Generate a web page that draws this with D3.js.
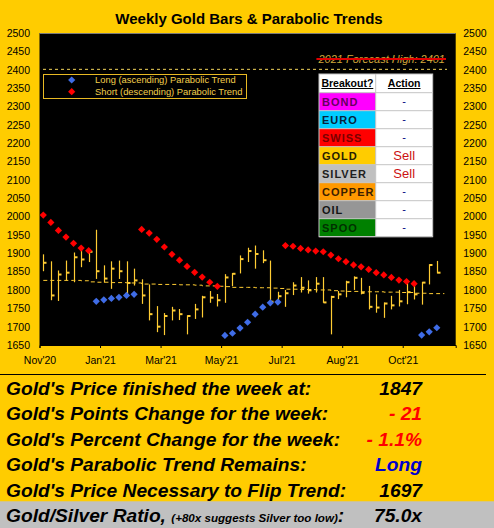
<!DOCTYPE html>
<html>
<head>
<meta charset="utf-8">
<script src="https://cdn.jsdelivr.net/npm/d3@7"></script>
<style>
  html, body { margin: 0; padding: 0; background: #FFCC00; }
  svg { display: block; }
  text { font-family: Arial, "Liberation Sans", sans-serif; }
</style>
</head>
<body>
<svg id="chart" width="494" height="528"></svg>
<script>
// Weekly gold bars, week ending Nov'20 .. Nov'21
const weekHighs  = [1897,1878,1853,1880,1902,1917,1909,1964,1867,1878,1880,1878,1858,1829,1815,1756,1737,1754,1748,1731,1762,1784,1797,1789,1843,1846,1894,1915,1921,1908,1880,1795,1800,1821,1835,1826,1835,1835,1784,1797,1825,1837,1833,1811,1788,1766,1784,1800,1820,1815,1822,1870,1879];
const weekLows   = [1851,1772,1770,1826,1821,1862,1876,1830,1820,1803,1830,1786,1812,1762,1717,1685,1677,1717,1718,1679,1721,1725,1765,1755,1765,1810,1845,1876,1858,1873,1765,1762,1754,1786,1793,1790,1793,1765,1679,1775,1780,1800,1788,1747,1738,1724,1747,1755,1761,1774,1760,1815,1845];
const weekCloses = [1874,1785,1842,1847,1889,1883,1904,1851,1831,1858,1851,1819,1826,1785,1734,1700,1729,1744,1734,1729,1747,1780,1779,1772,1834,1844,1884,1906,1898,1881,1768,1783,1791,1812,1806,1799,1817,1766,1781,1788,1821,1833,1792,1754,1752,1763,1758,1769,1794,1788,1820,1868,1847];

// Moving average drawn as the dashed trace through the bars
const movingAvg = [1826,1826,1826,1826,1826,1825,1822,1821,1821,1820,1820,1819,1819,1816,1816,1815,1815,1815,1814,1814,1813,1811,1811,1810,1809,1807,1807,1807,1806,1806,1805,1804,1802,1802,1801,1801,1800,1800,1798,1797,1796,1796,1795,1795,1795,1794,1794,1793,1793,1791,1791,1790,1790];

// Parabolic stops (null where that side is not in force)
const longTrend = [null,null,null,null,null,null,null,1769,1773,1777,1780,1785,1788,
  null,null,null,null,null,null,null,null,null,null,null,
  1676,1682,1696,1712,1734,1753,1765,1767,
  null,null,null,null,null,null,null,null,null,null,null,null,null,null,null,null,null,null,
  1677,1686,1697];
const shortTrend = [2004,1984,1962,1944,1927,1914,1907,
  null,null,null,null,null,null,
  1965,1955,1938,1917,1897,1881,1864,1848,1835,1821,1810,
  null,null,null,null,null,null,null,null,
  1921,1919,1913,1909,1906,1904,1895,1885,1877,1868,1863,1856,1847,1841,1834,1827,1823,1817,
  null,null,null];

const priceTicks = [1650,1700,1750,1800,1850,1900,1950,2000,2050,2100,2150,2200,2250,2300,2350,2400,2450,2500];
const monthTickWeeks = [0,8,16,24,32,40,48];
const monthLabels = ["Nov'20","Jan'21","Mar'21","May'21","Jul'21","Aug'21","Oct'21"];
const weekSlots = 55;

const forecastHigh = 2401;

const breakoutAssets  = ["BOND","EURO","SWISS","GOLD","SILVER","COPPER","OIL","SPOO"];
const breakoutActions = ["-","-","-","Sell","Sell","-","-","-"];

const summaryLabels = ["Gold's Price finished the week at:","Gold's Points Change for the week:","Gold's Percent Change for the week:","Gold's Parabolic Trend Remains:","Gold's Price Necessary to Flip Trend:"];
const summaryValues = ["1847","- 21","- 1.1%","Long","1697"];
const goldSilverRatio = "75.0x";

// ---- styling ----
const YELLOW = "#FFCC00";
const BAR = "#FFCC33";
const RED = "#FF0000";
const BLUE = "#3F6CE6";
const assetFill = {BOND:"#FF00FF",EURO:"#00CCFF",SWISS:"#FF0000",GOLD:"#FFCC00",SILVER:"#C0C0C0",COPPER:"#FF9900",OIL:"#969696",SPOO:"#008000"};
const assetInk  = {BOND:"#66005E",EURO:"#06233A",SWISS:"#7A0000",GOLD:"#2A2000",SILVER:"#202020",COPPER:"#3A1E00",OIL:"#141414",SPOO:"#003000"};
const summaryInk = ["#000","#FF0000","#FF0000","#0000CC","#000"];

const svg = d3.select("#chart");
const W = 494, H = 528;
const plot = {left: 39.5, right: 455.7, top: 33, bottom: 345};

svg.append("rect").attr("width", W).attr("height", H).attr("fill", YELLOW);

const x = d3.scaleLinear().domain([0, weekSlots]).range([plot.left, plot.right]);
const y = d3.scaleLinear().domain([1650, 2500]).range([plot.bottom, plot.top]);
const cx = i => x(i + 0.5);

// title
svg.append("text").attr("x", 249).attr("y", 24).attr("text-anchor", "middle")
  .attr("font-size", 15).attr("font-weight", "bold").attr("fill", "#000")
  .text("Weekly Gold Bars & Parabolic Trends");

// plot background
svg.append("rect").attr("x", plot.left).attr("y", plot.top)
  .attr("width", plot.right - plot.left).attr("height", plot.bottom - plot.top)
  .attr("fill", "#000");
svg.append("line").attr("x1", plot.left).attr("x2", plot.right)
  .attr("y1", plot.top + 0.5).attr("y2", plot.top + 0.5)
  .attr("stroke", "#7a7a7a").attr("stroke-width", 1);

// axes
const plain = d3.format("d");
const axL = svg.append("g").attr("transform", `translate(${plot.left},0)`)
  .call(d3.axisLeft(y).tickValues(priceTicks).tickFormat(plain).tickSize(0).tickPadding(9.5));
const axR = svg.append("g").attr("transform", `translate(${plot.right},0)`)
  .call(d3.axisRight(y).tickValues(priceTicks).tickFormat(plain).tickSize(0).tickPadding(7.5));
[axL, axR].forEach(g => {
  g.select(".domain").remove();
  g.selectAll("text").attr("font-size", 10.5).attr("fill", "#000").attr("font-family", "Arial, 'Liberation Sans', sans-serif");
});
const axB = svg.append("g").attr("transform", `translate(0,${plot.bottom})`)
  .call(d3.axisBottom(x).tickValues(monthTickWeeks).tickFormat((d, i) => monthLabels[i]).tickSize(3).tickPadding(8.5));
axB.select(".domain").attr("stroke", "#000");
axB.selectAll(".tick line").attr("stroke", "#000");
axB.selectAll("text").attr("font-size", 10.5).attr("fill", "#000").attr("font-family", "Arial, 'Liberation Sans', sans-serif");

// forecast line
svg.append("line").attr("x1", 43).attr("x2", 447)
  .attr("y1", y(forecastHigh)).attr("y2", y(forecastHigh))
  .attr("stroke", "#F2D35A").attr("stroke-width", 1).attr("stroke-dasharray", "3,3");
const fcText = svg.append("text").attr("x", 445).attr("y", 63).attr("text-anchor", "end")
  .attr("font-size", 11).attr("font-style", "italic").attr("fill", "#CFA63A")
  .text("2021 Forecast High: " + forecastHigh);
const fcBox = fcText.node().getBBox();
svg.append("line").attr("x1", fcBox.x - 1).attr("x2", fcBox.x + fcBox.width + 1)
  .attr("y1", 59).attr("y2", 59).attr("stroke", "#E00000").attr("stroke-width", 2);

// moving average
const maLine = d3.line().x((d, i) => cx(i)).y(d => y(d)).curve(d3.curveStepAfter);
const maPts = movingAvg.concat([movingAvg[movingAvg.length - 1]]);
svg.append("path").datum(maPts).attr("d", maLine)
  .attr("fill", "none").attr("stroke", BAR).attr("stroke-width", 1)
  .attr("stroke-dasharray", "4,3");

// bars
const bars = svg.append("g");
weekCloses.forEach((c, i) => {
  const xp = Math.round(cx(i)) + 0.5;
  bars.append("line").attr("x1", xp).attr("x2", xp)
    .attr("y1", y(weekHighs[i])).attr("y2", y(weekLows[i]))
    .attr("stroke", BAR).attr("stroke-width", 1.2);
  bars.append("line").attr("x1", xp).attr("x2", xp + 3)
    .attr("y1", y(c)).attr("y2", y(c))
    .attr("stroke", BAR).attr("stroke-width", 2);
});

// parabolic markers
const diamond = d3.symbol().type(d3.symbolSquare).size(26);
function drawStops(vals, color) {
  svg.append("g").selectAll("path")
    .data(vals.map((v, i) => ({v, i})).filter(d => d.v !== null))
    .join("path")
    .attr("d", diamond)
    .attr("transform", d => `translate(${cx(d.i)},${y(d.v)}) rotate(45)`)
    .attr("fill", color);
}
drawStops(shortTrend, RED);
drawStops(longTrend, BLUE);

// legend
const lg = svg.append("g");
lg.append("rect").attr("x", 43.5).attr("y", 74.5).attr("width", 203).attr("height", 24)
  .attr("fill", "#000").attr("stroke", "#E8B923").attr("stroke-width", 1);
[["Long (ascending) Parabolic Trend", BLUE], ["Short (descending) Parabolic Trend", RED]].forEach((d, k) => {
  lg.append("path").attr("d", diamond)
    .attr("transform", `translate(71.7,${80 + k * 11.7}) rotate(45)`).attr("fill", d[1]);
  lg.append("text").attr("x", 95).attr("y", 83.3 + k * 11.2)
    .attr("font-size", 9.4).attr("fill", "#F3CF4C").text(d[0]);
});

// breakout table
const tb = svg.append("g");
const tX0 = 319, tX1 = 375.7, tX2 = 432.7, tY0 = 74, hdrH = 18.7, rowH = 18;
tb.append("rect").attr("x", tX0).attr("y", tY0).attr("width", tX2 - tX0).attr("height", hdrH + rowH * breakoutAssets.length)
  .attr("fill", "#fff");
breakoutAssets.forEach((a, k) => {
  const ry = tY0 + hdrH + k * rowH;
  tb.append("rect").attr("x", tX0).attr("y", ry).attr("width", tX1 - tX0).attr("height", rowH).attr("fill", assetFill[a]);
  tb.append("text").attr("x", tX0 + 3).attr("y", ry + 13)
    .attr("font-size", 11).attr("font-weight", "bold").attr("letter-spacing", 1)
    .attr("fill", assetInk[a]).text(a);
  const act = breakoutActions[k];
  tb.append("text").attr("x", (tX1 + tX2) / 2).attr("y", ry + (act === "-" ? 12.5 : 13.5)).attr("text-anchor", "middle")
    .attr("font-size", act === "-" ? 11 : 13).attr("fill", act === "-" ? "#000080" : "#CC1111").text(act);
});
// grid
const gridC = "#C4C4C4";
for (let k = 0; k <= breakoutAssets.length; k++) {
  const ry = tY0 + hdrH + k * rowH;
  tb.append("line").attr("x1", tX0).attr("x2", tX2).attr("y1", ry).attr("y2", ry).attr("stroke", gridC).attr("stroke-width", 1);
}
tb.append("line").attr("x1", tX1).attr("x2", tX1).attr("y1", tY0).attr("y2", tY0 + hdrH + rowH * breakoutAssets.length)
  .attr("stroke", gridC);
tb.append("rect").attr("x", tX0).attr("y", tY0).attr("width", tX2 - tX0).attr("height", hdrH + rowH * breakoutAssets.length)
  .attr("fill", "none").attr("stroke", gridC).attr("stroke-width", 1);
[["Breakout?", (tX0 + tX1) / 2], ["Action", (tX1 + tX2) / 2]].forEach(h => {
  const t = tb.append("text").attr("x", h[1]).attr("y", tY0 + 13).attr("text-anchor", "middle")
    .attr("font-size", 10.5).attr("font-weight", "bold").attr("fill", "#000").text(h[0]);
  const b = t.node().getBBox();
  tb.append("line").attr("x1", b.x).attr("x2", b.x + b.width).attr("y1", tY0 + 14.5).attr("y2", tY0 + 14.5)
    .attr("stroke", "#000").attr("stroke-width", 1);
});

// summary panel
svg.append("line").attr("x1", 0).attr("x2", 486).attr("y1", 374.5).attr("y2", 374.5)
  .attr("stroke", "#000").attr("stroke-width", 1.2);
svg.append("rect").attr("x", 0).attr("y", 501.3).attr("width", W).attr("height", H - 501.3).attr("fill", "#C0C0C0");
const rowBase = [394.5, 420.2, 445.6, 471.3, 497];
summaryLabels.forEach((s, k) => {
  svg.append("text").attr("x", 6).attr("y", rowBase[k])
    .attr("font-size", 19.2).attr("font-weight", "bold").attr("font-style", "italic").attr("fill", "#000").text(s);
  svg.append("text").attr("x", 422).attr("y", rowBase[k]).attr("text-anchor", "end")
    .attr("font-size", 19.2).attr("font-weight", "bold").attr("font-style", "italic").attr("fill", summaryInk[k]).text(summaryValues[k]);
});
const ratio = svg.append("text").attr("x", 6).attr("y", 522.2)
  .attr("font-weight", "bold").attr("font-style", "italic").attr("fill", "#000");
ratio.append("tspan").attr("font-size", 19.2).text("Gold/Silver Ratio, ");
ratio.append("tspan").attr("font-size", 11.6).attr("dy", -0.5).text("(+80x suggests Silver too low)");
ratio.append("tspan").attr("font-size", 19.2).attr("dy", 0.5).text(":");
svg.append("text").attr("x", 422).attr("y", 522.2).attr("text-anchor", "end")
  .attr("font-size", 19.2).attr("font-weight", "bold").attr("font-style", "italic").attr("fill", "#000").text(goldSilverRatio);
</script>
</body>
</html>
